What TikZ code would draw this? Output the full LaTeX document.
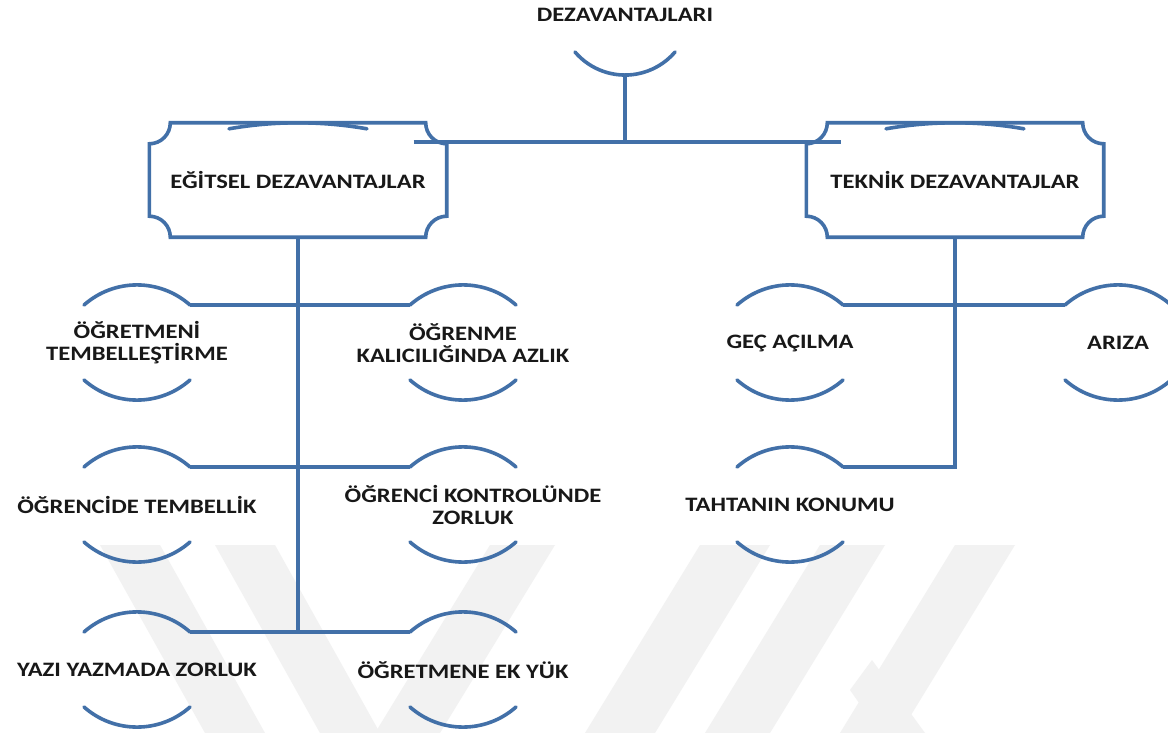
\documentclass[tikz,border=0pt]{standalone}
\usepackage{fontspec}
\setmainfont{Carlito}[FakeStretch=1.2]
\usetikzlibrary{calc}
\definecolor{lineblue}{RGB}{66,112,168}
\definecolor{inkgray}{RGB}{24,24,24}
\definecolor{markgray}{RGB}{242,242,242}
\tikzset{itemtext/.style={font=\bfseries\fontsize{20.5}{22}\selectfont, text=inkgray, align=center, inner sep=0pt}}
\tikzset{plaquebox/.style={itemtext, minimum width=297pt, minimum height=114pt}}
\tikzset{blueline/.style={draw=lineblue, line width=3.6pt}}
\tikzset{arcline/.style={blueline, line cap=round}}
\tikzset{markband/.style={fill=markgray, draw=none}}

% item with an arc above and an arc below its text
\newcommand\arcitem[4]{%
  \node[itemtext] (#1) at (#2,#3) {#4};
  \coordinate (#1-l) at ($(#1)+(-53,38)$);
  \coordinate (#1-r) at ($(#1)+(53,38)$);
  \draw[arcline] (#1-l) arc[start angle=131.5, end angle=48.5, radius=80pt];
  \draw[arcline] ($(#1)+(-53,-37)$) arc[start angle=228.5, end angle=311.5, radius=80pt];
}
% box with hollow corners
\newcommand\plaque[1]{%
  \draw[blueline] ([xshift=21pt]#1.north west) -- ([xshift=-21pt]#1.north east)
    arc[start angle=180, end angle=270, radius=21pt] -- ([yshift=21pt]#1.south east)
    arc[start angle=90, end angle=180, radius=21pt] -- ([xshift=21pt]#1.south west)
    arc[start angle=0, end angle=90, radius=21pt] -- ([yshift=-21pt]#1.north west)
    arc[start angle=-90, end angle=0, radius=21pt] -- cycle;
  \draw[arcline] ($(#1.north)+(-69,-6)$) arc[start angle=99.93, end angle=80.07, radius=400pt];
}

\begin{document}
\begin{tikzpicture}[x=1pt, y=1pt]
    \useasboundingbox (0,0) rectangle (1168,-733);
    \clip (0,0) rectangle (1168,-733);
    \fill[white] (0,0) rectangle (1168,-733);

    % faint watermark
    \fill[markband] (100,-545) -- (160,-545) -- (265,-733) -- (205,-733) -- cycle;
    \fill[markband] (215,-545) -- (275,-545) -- (380,-733) -- (320,-733) -- cycle;
    \fill[markband] (490,-545) -- (555,-545) -- (440,-733) -- (375,-733) -- cycle;
    \fill[markband] (700,-545) -- (770,-545) -- (655,-733) -- (585,-733) -- cycle;
    \fill[markband] (820,-545) -- (885,-545) -- (770,-733) -- (705,-733) -- cycle;
    \fill[markband] (955,-545) -- (1015,-545) -- (900,-733) -- (840,-733) -- cycle;
    \fill[markband] (850,-690) -- (872,-660) -- (925,-733) -- (880,-733) -- cycle;

    \node[itemtext] (title) at (625,-15) {DEZAVANTAJLARI};
    \draw[arcline] ($(title)+(-50,-37)$) arc[start angle=220.5, end angle=319.5, radius=65.8pt];
    \coordinate (title-hub) at ($(title)+(0,-60)$);
    \coordinate (hub) at ($(title-hub)+(0,-67)$);

    \node[plaquebox] (egitsel) at (298,-180) {EĞİTSEL DEZAVANTAJLAR};
    \node[plaquebox] (teknik) at (955,-180) {TEKNİK DEZAVANTAJLAR};
    \plaque{egitsel}
    \plaque{teknik}
    \coordinate (egitsel-hook) at ($(egitsel.north east)+(-33,-19)$);
    \coordinate (teknik-hook) at ($(teknik.north west)+(35,-19)$);

    \arcitem{ogretmeni}{137}{-343}{ÖĞRETMENİ\\TEMBELLEŞTİRME}
    \arcitem{ogrenme}{463}{-343}{ÖĞRENME\\KALICILIĞINDA AZLIK}
    \arcitem{ogrencide}{137}{-505}{ÖĞRENCİDE TEMBELLİK}
    \arcitem{kontrol}{463}{-505}{\hspace*{20pt}ÖĞRENCİ KONTROLÜNDE\\\hspace*{20pt}ZORLUK}
    \arcitem{yazi}{137}{-670}{YAZI YAZMADA ZORLUK}
    \arcitem{ekyuk}{463}{-670}{ÖĞRETMENE EK YÜK}
    \arcitem{gec}{790}{-343}{GEÇ AÇILMA}
    \arcitem{ariza}{1118}{-343}{ARIZA}
    \arcitem{tahta}{790}{-505}{TAHTANIN KONUMU}

    \draw[blueline] (title-hub) -- (hub);
    \draw[blueline] (egitsel-hook) -- (teknik-hook);

    \draw[blueline] (egitsel.south) -- (egitsel.south |- yazi-r);
    \draw[blueline] (ogretmeni-r) -- (ogrenme-l);
    \draw[blueline] (ogrencide-r) -- (kontrol-l);
    \draw[blueline] (yazi-r) -- (ekyuk-l);

    \draw[blueline] (teknik.south) |- (tahta-r);
    \draw[blueline] (gec-r) -- (ariza-l);
\end{tikzpicture}
\end{document}
